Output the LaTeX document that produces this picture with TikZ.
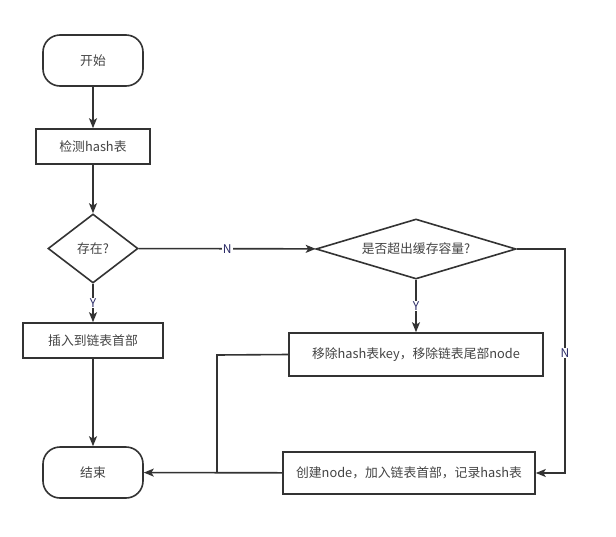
\documentclass[tikz,border=0pt]{standalone}
\usepackage{fontspec}
\setmainfont{Noto Sans CJK SC}
\usetikzlibrary{shapes.geometric,arrows.meta}
\definecolor{linec}{HTML}{333333}
\definecolor{textc}{HTML}{444444}
\definecolor{labc}{HTML}{2A2A66}
\begin{document}
\begin{tikzpicture}[x=1pt,y=-1pt,
  every node/.style={font=\fontsize{12.8pt}{14pt}\selectfont, text=textc},
  terminal/.style={draw=linec, line width=1.6pt, fill=white, rounded corners=17pt, minimum width=100pt, minimum height=51pt, inner sep=0pt},
  procbox/.style={draw=linec, line width=1.6pt, fill=white, inner sep=0pt},
  decision/.style={draw=linec, line width=1.6pt, fill=white, diamond, inner sep=0pt},
  conn/.style={draw=linec, line width=1.6pt, -{Stealth[length=10pt,width=8pt,inset=2.5pt]}},
  plain/.style={draw=linec, line width=1.6pt},
  lab/.style={fill=white, inner sep=1pt, text=labc, font=\fontsize{12pt}{13pt}\selectfont}
]
\useasboundingbox[fill=white] (0,0) rectangle (616,536);

\node[terminal] (start) at (93,60.5) {开始};
\node[procbox, minimum width=114pt, minimum height=35pt] (check) at (93,146.5) {检测hash表};
\node[decision, aspect=1.3, minimum width=90pt, minimum height=69pt] (exist) at (93,248.5) {存在?};
\node[procbox, minimum width=140pt, minimum height=35pt] (insert) at (93,340.5) {插入到链表首部};
\node[terminal] (end) at (93,472.5) {结束};
\node[decision, aspect=3.33, minimum width=200pt, minimum height=60pt] (over) at (416,249) {是否超出缓存容量?};
\node[procbox, minimum width=254pt, minimum height=43pt] (remove) at (416,354.5) {移除hash表key，移除链表尾部node};
\node[procbox, minimum width=252pt, minimum height=42pt] (create) at (409,473) {创建node，加入链表首部，记录hash表};

\coordinate (jn) at (217,355);
\coordinate (rc) at (565,249);

\draw[conn] (start) -- (check);
\draw[conn] (check) -- (exist);
\draw[conn] (exist) -- node[lab] {Y} (insert);
\draw[conn] (insert) -- (end);
\draw[conn] (exist) -- node[lab] {N} (over);
\draw[conn] (over) -- node[lab] {Y} (remove);
\draw[conn] (over.east) -- (rc) |- (create.east);
\node[lab] at (565,353) {N};
\draw[conn] (create) -- (end);
\draw[plain] (remove.west) -- (jn) -- (jn |- end.east);
\end{tikzpicture}
\end{document}
